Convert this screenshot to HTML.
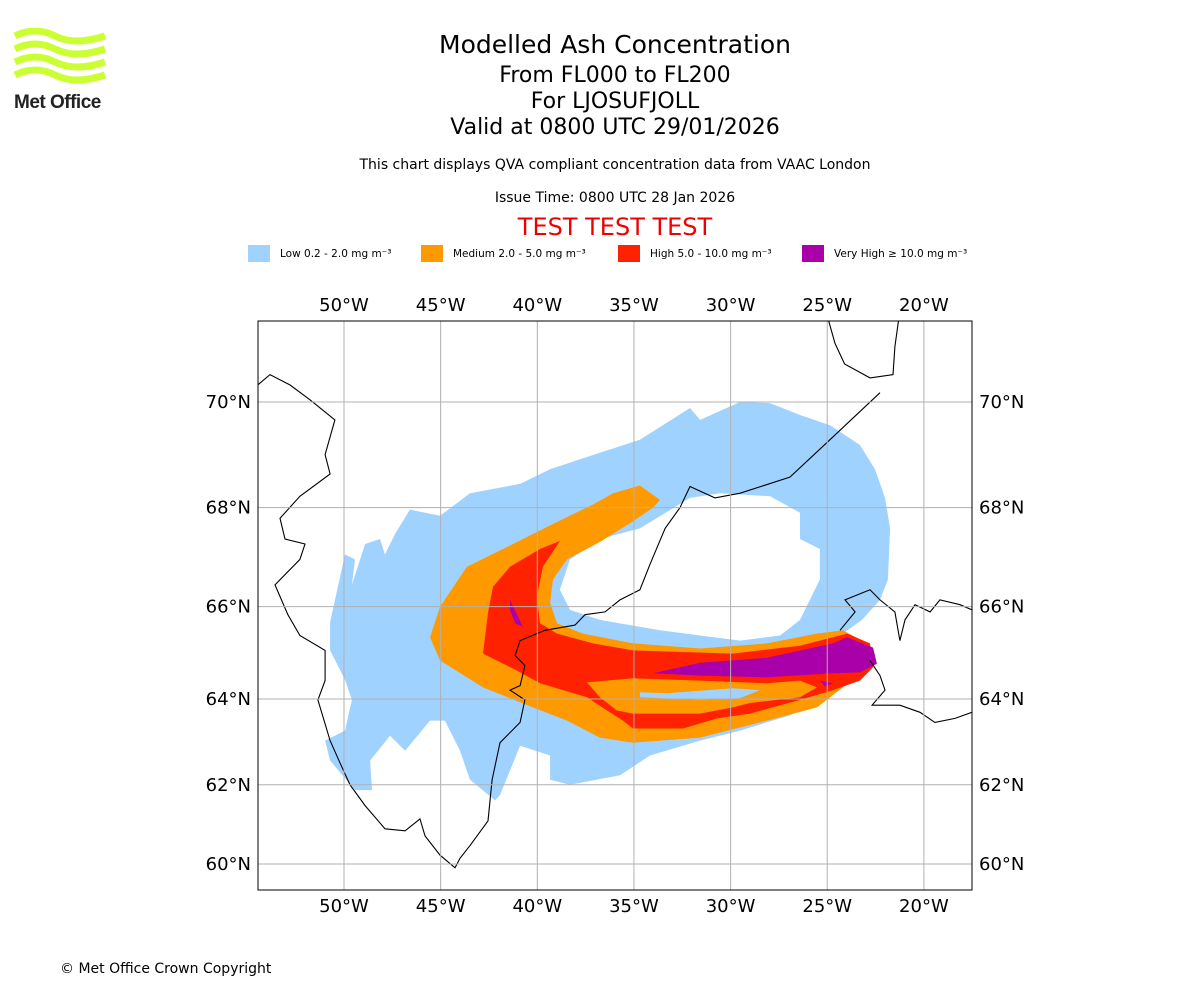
<!DOCTYPE html>
<html><head><meta charset="utf-8"><style>
body{margin:0;width:1200px;height:1000px;background:#fff;font-family:"DejaVu Sans","Liberation Sans",sans-serif;overflow:hidden;position:relative}
.t{position:absolute;left:0;width:1230px;text-align:center;color:#000;white-space:nowrap}
</style></head><body>
<svg style="position:absolute;left:10px;top:28px" width="110" height="90">
<g fill="none" stroke="#ccff33" stroke-width="7">
<path d="M5 8 Q25 -2 45 8 T95 8"/><path d="M5 21 Q25 11 45 21 T95 21"/><path d="M5 34 Q25 24 45 34 T95 34"/><path d="M5 47 Q25 37 45 47 T95 47"/>
</g>
<text x="4" y="80" font-family="Liberation Sans,sans-serif" font-weight="bold" font-size="19" fill="#222" letter-spacing="-0.5">Met Office</text>
</svg>
<div class="t" style="top:30px;font-size:25px">Modelled Ash Concentration</div>
<div class="t" style="top:63px;font-size:22px">From FL000 to FL200</div>
<div class="t" style="top:89px;font-size:22px">For LJOSUFJOLL</div>
<div class="t" style="top:115px;font-size:22px">Valid at 0800 UTC 29/01/2026</div>
<div class="t" style="top:157px;font-size:14px">This chart displays QVA compliant concentration data from VAAC London</div>
<div class="t" style="top:190px;font-size:14px">Issue Time: 0800 UTC 28 Jan 2026</div>
<div class="t" style="top:213px;font-size:24px;color:#e00">TEST TEST TEST</div>
<div style="position:absolute;left:60px;top:961px;font-size:14px">© Met Office Crown Copyright</div>
<svg id="chart" width="1200" height="1000" style="position:absolute;left:0;top:0" font-family="DejaVu Sans,Liberation Sans,sans-serif"></svg>
<script>
const legendLabels=["Low 0.2 - 2.0 mg m⁻³","Medium 2.0 - 5.0 mg m⁻³","High 5.0 - 10.0 mg m⁻³","Very High  ≥  10.0 mg m⁻³"];
const legendColors=["#a0d2ff","#ff9900","#ff2200","#aa00aa"];
const lonTicks=[-50,-45,-40,-35,-30,-25,-20];
const latTicks=[60,62,64,66,68,70];
const lowOuter=[[-50.72,65.67],[-49.95,67.07],[-49.43,66.97],[-49.59,66.45],[-48.91,67.28],[-48.14,67.38],[-47.88,67.07],[-47.36,67.48],[-46.59,67.96],[-45.03,67.84],[-43.48,68.28],[-40.89,68.46],[-39.34,68.74],[-37.79,68.93],[-34.69,69.30],[-32.10,69.89],[-31.58,69.67],[-29.51,70.0],[-27.96,69.98],[-26.41,69.76],[-24.86,69.57],[-23.31,69.20],[-22.53,68.74],[-22.01,68.19],[-21.75,67.59],[-21.86,66.56],[-22.27,66.14],[-23.20,65.72],[-24.34,65.39],[-24.86,64.85],[-25.27,63.98],[-26.93,63.63],[-29.51,63.28],[-31.58,63.05],[-34.17,62.70],[-35.72,62.23],[-38.31,62.0],[-39.34,62.12],[-39.34,62.70],[-40.89,62.93],[-41.93,61.75],[-42.19,61.62],[-43.48,62.12],[-44.0,62.81],[-44.78,63.51],[-45.55,63.51],[-46.84,62.81],[-47.62,63.16],[-48.65,62.58],[-48.55,61.87],[-49.43,61.87],[-50.72,62.58],[-50.98,63.05],[-49.95,63.28],[-49.59,63.98],[-49.95,64.43],[-50.72,65.07]];
const lowHole=[[-38.83,66.35],[-38.31,66.97],[-36.76,67.38],[-34.69,67.59],[-32.10,68.19],[-30.55,68.28],[-27.96,68.22],[-26.41,67.90],[-26.41,67.38],[-25.38,67.18],[-25.38,66.56],[-26.41,65.72],[-27.44,65.39],[-29.51,65.28],[-31.58,65.39],[-33.65,65.50],[-36.76,65.72],[-38.31,65.93]];
const medOuter=[[-33.65,68.15],[-34.69,68.43],[-36.08,68.28],[-37.12,68.06],[-39.34,67.65],[-41.05,67.32],[-43.64,66.82],[-45.03,66.0],[-45.55,65.35],[-45.03,64.85],[-42.81,64.26],[-40.22,63.81],[-38.46,63.51],[-36.76,63.12],[-35.05,63.0],[-31.58,63.12],[-28.12,63.51],[-25.53,63.81],[-24.19,64.26],[-23.15,64.57],[-22.63,64.85],[-22.94,65.22],[-24.19,65.50],[-25.53,65.43],[-28.12,65.22],[-31.58,65.11],[-35.05,65.22],[-37.64,65.43],[-38.98,65.65],[-39.34,66.08],[-39.19,66.56],[-38.46,66.97],[-36.76,67.32],[-35.05,67.73],[-34.01,68.0]];
const highOuter=[[-38.83,67.34],[-39.86,67.18],[-41.41,66.82],[-42.29,66.41],[-42.55,65.87],[-42.81,65.0],[-41.05,64.63],[-39.86,64.35],[-37.43,64.04],[-36.39,63.74],[-35.57,63.51],[-35.05,63.33],[-32.46,63.33],[-30.70,63.56],[-29.0,63.67],[-26.41,63.98],[-24.70,64.20],[-23.31,64.41],[-22.63,64.70],[-22.79,65.22],[-23.98,65.43],[-26.41,65.17],[-29.88,65.0],[-35.05,65.07],[-37.12,65.22],[-38.98,65.43],[-39.86,65.65],[-40.02,66.21],[-39.71,66.82],[-39.19,67.13]];
const medRibbon=[[-37.43,64.37],[-35.05,64.46],[-31.58,64.41],[-28.12,64.35],[-26.41,64.41],[-25.53,64.26],[-26.41,64.04],[-29.0,63.91],[-29.88,63.81],[-31.58,63.67],[-35.05,63.67],[-35.88,63.74],[-36.76,64.04]];
const lowStrip=[[-34.69,64.15],[-33.29,64.13],[-29.88,64.24],[-28.48,64.20],[-29.51,64.02],[-31.58,63.98],[-34.69,64.04]];
const vhighCore=[[-34.01,64.57],[-31.58,64.80],[-28.12,64.91],[-24.70,65.22],[-23.98,65.35],[-22.63,65.13],[-22.43,64.78],[-23.31,64.59],[-24.70,64.57],[-28.12,64.48],[-31.58,64.52]];
const vhighWest=[[-41.41,66.14],[-40.74,65.57],[-41.15,65.65],[-41.41,65.93]];
const vhighSouth=[[-25.38,64.41],[-24.70,64.35],[-25.12,64.28]];
const coastGreenland=[[-22.27,70.17],[-24.86,69.30],[-26.93,68.59],[-29.51,68.28],[-30.81,68.19],[-32.10,68.41],[-32.62,68.0],[-33.39,67.59],[-34.17,66.87],[-34.69,66.35],[-35.72,66.14],[-36.50,65.89],[-37.53,65.83],[-38.05,65.61],[-39.60,65.50],[-40.89,65.28],[-41.15,64.96],[-40.64,64.74],[-40.89,64.30],[-41.41,64.20],[-40.64,63.98],[-40.89,63.47],[-41.93,63.0],[-42.34,62.12],[-42.55,61.11],[-43.48,60.48],[-44.0,60.15],[-44.26,59.9],[-45.03,60.23],[-45.81,60.73],[-46.07,61.16],[-46.84,60.86],[-47.88,60.91],[-48.91,61.49],[-49.69,62.0],[-50.21,62.53],[-50.72,63.05],[-51.35,63.98],[-50.98,64.41],[-50.98,65.07],[-52.28,65.39],[-52.90,65.83],[-53.57,66.45],[-52.28,66.97],[-52.02,67.28],[-53.05,67.38],[-53.31,67.79],[-52.28,68.22],[-50.72,68.65],[-50.98,69.02],[-50.47,69.67],[-51.76,70.04],[-52.79,70.31],[-53.83,70.50],[-54.5,70.3]];
const coastScoresby=[[-24.96,71.5],[-24.6,71.06],[-24.1,70.69],[-22.79,70.44],[-21.6,70.5],[-21.5,71.0],[-21.3,71.5]];
const coastIcelandN=[[-24.34,65.50],[-23.56,65.89],[-24.08,66.14],[-22.79,66.35],[-22.27,66.14],[-21.5,65.89],[-21.24,65.28],[-20.98,65.72],[-20.46,66.04],[-19.68,65.89],[-19.17,66.14],[-18.13,66.04],[-17.51,65.93]];
const coastIcelandS=[[-22.79,64.85],[-22.27,64.52],[-22.01,64.20],[-22.68,63.86],[-21.24,63.86],[-20.20,63.70],[-19.43,63.47],[-18.39,63.56],[-17.51,63.70]];

const NS="http://www.w3.org/2000/svg";
const svg=document.getElementById('chart');
const L=258,T=321,R=972,B=890;
function px(lon){return 344+(lon+50)*19.33;}
function py(lat){const d=lat-60;return 864-37.95*d-0.825*d*d;}
function mk(tag,at,parent){const e=document.createElementNS(NS,tag);for(const k in at)e.setAttribute(k,at[k]);(parent||svg).appendChild(e);return e;}
function pts(a){return a.map(p=>px(p[0]).toFixed(1)+','+py(p[1]).toFixed(1)).join(' ');}

legendLabels.forEach((lab,i)=>{
  const x0=[248,421,618,802][i];
  const r=mk('rect',{x:x0,y:245,width:22,height:17,fill:legendColors[i]});
  
  
  const t=mk('text',{x:x0+32,y:257,'font-size':10.5});t.textContent=lab;
  
  
});

const defs=mk('defs',{});
const cp=mk('clipPath',{id:'mapclip'},defs);mk('rect',{x:L,y:T,width:R-L,height:B-T},cp);
const g=mk('g',{'clip-path':'url(#mapclip)'});



function poly(a,fill,name){const p=mk('polygon',{points:pts(a),fill:fill},g);
  
  }
poly(lowOuter,legendColors[0],'low-ash-area');
poly(lowHole,'#fff','low-ash-hole');
poly(medOuter,legendColors[1],'medium-ash-area');
poly(highOuter,legendColors[2],'high-ash-area');
poly(medRibbon,legendColors[1],'medium-ash-ribbon');
poly(lowStrip,legendColors[0],'low-ash-strip');
poly(vhighCore,legendColors[3],'very-high-ash-core');
poly(vhighWest,legendColors[3],'very-high-ash-west');
poly(vhighSouth,legendColors[3],'very-high-ash-south');

[[coastGreenland,'coastline-greenland'],[coastScoresby,'coastline-scoresby'],[coastIcelandN,'coastline-iceland-north'],[coastIcelandS,'coastline-iceland-south']].forEach(([a,n])=>{
  const p=mk('polyline',{points:pts(a),fill:'none',stroke:'#000','stroke-width':1.1},g);
  
  
});

lonTicks.forEach(v=>{
  const x=px(v);
  const l=mk('line',{x1:x,x2:x,y1:T,y2:B,stroke:'#b0b0b0','stroke-width':1},g);
  
  
  [[T-10,'top'],[B+22,'bottom']].forEach(([y,s])=>{
    const t=mk('text',{x:x,y:y,'font-size':18,'text-anchor':'middle'});t.textContent=Math.abs(v)+'°W';
    
    
  });
});
latTicks.forEach(v=>{
  const y=py(v);
  const l=mk('line',{x1:L,x2:R,y1:y,y2:y,stroke:'#b0b0b0','stroke-width':1},g);
  
  
  const t1=mk('text',{x:L-7,y:y+6,'font-size':18,'text-anchor':'end'});t1.textContent=v+'°N';
  
  
  const t2=mk('text',{x:R+7,y:y+6,'font-size':18}); t2.textContent=v+'°N';
  
  
});
const fr=mk('rect',{x:L,y:T,width:R-L,height:B-T,fill:'none',stroke:'#000','stroke-width':1});


</script>
</body></html>
